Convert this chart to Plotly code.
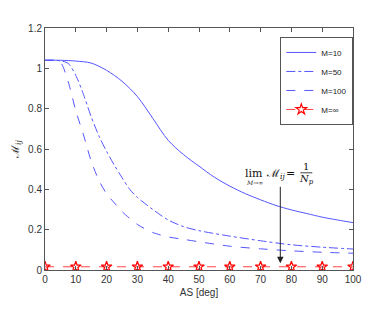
import plotly.graph_objects as go

# ---- data ----
as10 = [0, 5, 10, 15, 20, 25, 30, 35, 40, 45, 50, 55, 60, 65, 70, 75, 80, 85, 90, 95, 100]
m10 = [1.04, 1.04, 1.036, 1.026, 0.99, 0.936, 0.86, 0.752, 0.643, 0.572, 0.515, 0.46, 0.416,
       0.379, 0.348, 0.32, 0.298, 0.28, 0.262, 0.248, 0.235]

as50 = [0, 2.5, 5, 7.5, 10, 12.5, 15, 17.5, 20, 22.5, 25, 27.5, 30, 35, 40, 45, 50, 60, 70, 80, 90, 100]
m50 = [1.04, 1.04, 1.037, 1.025, 0.965, 0.87, 0.76, 0.665, 0.588, 0.52, 0.458, 0.40, 0.36, 0.30,
       0.248, 0.215, 0.195, 0.168, 0.145, 0.125, 0.113, 0.104]

as100 = [0, 2.5, 5, 7.5, 10, 12.5, 15, 17.5, 20, 22.5, 25, 30, 35, 40, 45, 50, 60, 70, 80, 90, 100]
m100 = [1.04, 1.04, 1.03, 0.935, 0.79, 0.67, 0.54, 0.445, 0.378, 0.333, 0.29, 0.226, 0.186, 0.164,
        0.152, 0.14, 0.118, 0.105, 0.095, 0.088, 0.083]

asinf = [0, 10, 20, 30, 40, 50, 60, 70, 80, 90, 100]
minf = [0.016] * len(asinf)

xticks = [0, 10, 20, 30, 40, 50, 60, 70, 80, 90, 100]
yticks = [0, 0.2, 0.4, 0.6, 0.8, 1.0, 1.2]

blue = "rgb(85,85,255)"
red = "rgb(255,70,70)"

fig = go.Figure()
fig.add_trace(go.Scatter(x=as10, y=m10, mode="lines", name="M=10",
                         line=dict(color=blue, width=1, shape="spline", smoothing=0.9)))
fig.add_trace(go.Scatter(x=as50, y=m50, mode="lines", name="M=50",
                         line=dict(color=blue, width=1, dash="dashdot", shape="spline", smoothing=0.8)))
fig.add_trace(go.Scatter(x=as100, y=m100, mode="lines", name="M=100",
                         line=dict(color=blue, width=1, dash="dash", shape="spline", smoothing=0.8)))
fig.add_trace(go.Scatter(x=asinf, y=minf, mode="lines+markers", name="M=∞",
                         line=dict(color=red, width=1, dash="dash"),
                         marker=dict(symbol="star-open", size=8, color="red",
                                     line=dict(color="red", width=1.2))))

font = "Liberation Sans, Arial, sans-serif"
tc = "#333333"
serif = "DejaVu Serif, serif"

# arrow
fig.add_annotation(x=76.4, y=0.033, ax=76.4, ay=0.42, xref="x", yref="y", axref="x", ayref="y",
                   text="", showarrow=True, arrowhead=2, arrowsize=1.3, arrowwidth=1,
                   arrowcolor="#222222")
# formula text pieces
fig.add_annotation(x=68.0, y=0.481, xref="x", yref="y", text="lim", showarrow=False,
                   font=dict(family=serif, size=11, color="#111"))
fig.add_annotation(x=68.1, y=0.432, xref="x", yref="y", text="<i>M</i>→∞", showarrow=False,
                   font=dict(family=serif, size=6, color="#111"))
fig.add_annotation(x=74.8, y=0.478, xref="x", yref="y", text="ℳ<sub><i>ij</i></sub>", showarrow=False,
                   font=dict(family=serif, size=11, color="#111"))
fig.add_annotation(x=79.8, y=0.481, xref="x", yref="y", text="=", showarrow=False,
                   font=dict(family=serif, size=11, color="#111"))
fig.add_annotation(x=84.8, y=0.513, xref="x", yref="y", text="1", showarrow=False,
                   font=dict(family=serif, size=10, color="#111"))
fig.add_annotation(x=84.8, y=0.447, xref="x", yref="y", text="<i>N</i><sub><i>p</i></sub>", showarrow=False,
                   font=dict(family=serif, size=10, color="#111"))
fig.add_shape(type="line", x0=82.9, x1=86.8, y0=0.482, y1=0.482, xref="x", yref="y",
              line=dict(color="#111", width=0.8))

# the page body has an 8px margin; size the figure so the plot area lands where the reference has it
fig.update_layout(
    width=366, height=305,
    margin=dict(l=37, r=21, t=20, b=43, autoexpand=False),
    paper_bgcolor="white", plot_bgcolor="white",
    font=dict(family=font, size=10, color=tc),
    showlegend=True,
    legend=dict(x=0.764, y=0.963, xanchor="left", yanchor="top",
                bgcolor="white", bordercolor="#555", borderwidth=1,
                font=dict(size=8, color="#222"), tracegroupgap=0,
                itemwidth=30),
    xaxis=dict(range=[0, 100], tickvals=xticks, ticks="inside", ticklen=4, mirror="ticks",
               showline=True, linecolor="#555", linewidth=1, showgrid=False, zeroline=False,
               tickcolor="#555", automargin=False,
               title=dict(text="AS [deg]", standoff=4, font=dict(size=10))),
    yaxis=dict(range=[0, 1.2], tickvals=yticks, ticks="inside", ticklen=4, mirror="ticks",
               showline=True, linecolor="#555", linewidth=1, showgrid=False, zeroline=False,
               tickcolor="#555", automargin=False,
               title=dict(text="ℳ<sub><i>ij</i></sub>", standoff=6,
                          font=dict(family=serif, size=11, color="#222"))),
)

fig.write_html("out.html")
